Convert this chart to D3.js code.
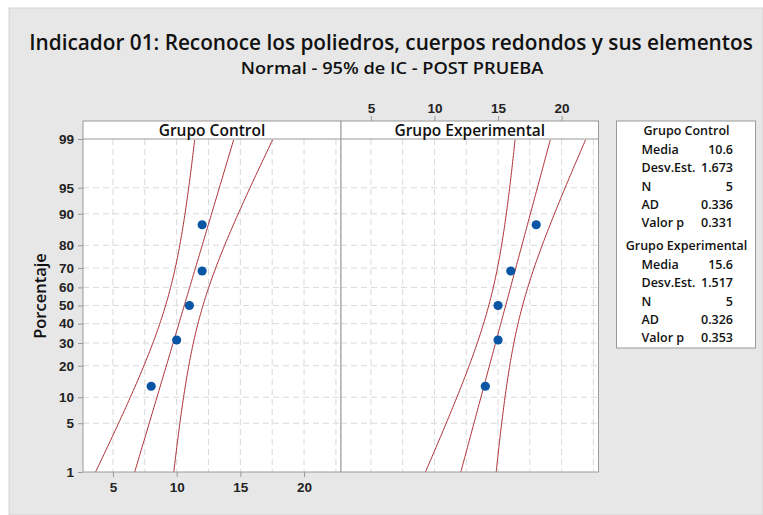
<!DOCTYPE html>
<html>
<head>
<meta charset="utf-8">
<script src="https://cdn.jsdelivr.net/npm/d3@7"></script>
<style>
  body { margin: 0; background: #fff; }
  svg { display: block; font-family: "Open Sans", "Noto Sans", sans-serif; }
  .grid line { stroke: #d9d9d9; stroke-dasharray: 6,4; }
</style>
</head>
<body>
<svg id="chart"></svg>
<script>
// datos
const groups = ["Grupo Control", "Grupo Experimental"];
const controlValues = [8, 10, 11, 12, 12];
const expValues = [14, 15, 15, 16, 18];
const pctTicks = [1, 5, 10, 20, 30, 40, 50, 60, 70, 80, 90, 95, 99];
const xTicks = [5, 10, 15, 20];
const gridX = [5, 7.5, 10, 12.5, 15, 17.5, 20, 22.5];
const statLabels = ["Media", "Desv.Est.", "N", "AD", "Valor p"];
const controlStats = ["10.6", "1.673", "5", "0.336", "0.331"];
const expStats = ["15.6", "1.517", "5", "0.326", "0.353"];

const width = 763, height = 515;

// inversa de la normal (Acklam)
function qnorm(p) {
  const a = [-39.69683028665376, 220.9460984245205, -275.9285104469687, 138.357751867269, -30.66479806614716, 2.506628277459239];
  const b = [-54.47609879822406, 161.5858368580409, -155.6989798598866, 66.80131188771972, -13.28068155288572];
  const c = [-0.007784894002430293, -0.3223964580411365, -2.400758277161838, -2.549732539343734, 4.374664141464968, 2.938163982698783];
  const d = [0.007784695709041462, 0.3224671290700398, 2.445134137142996, 3.754408661907416];
  const pl = 0.02425;
  let q, r;
  if (p < pl) {
    q = Math.sqrt(-2 * Math.log(p));
    return (((((c[0]*q+c[1])*q+c[2])*q+c[3])*q+c[4])*q+c[5]) / ((((d[0]*q+d[1])*q+d[2])*q+d[3])*q+1);
  } else if (p <= 1 - pl) {
    q = p - 0.5; r = q * q;
    return (((((a[0]*r+a[1])*r+a[2])*r+a[3])*r+a[4])*r+a[5])*q / (((((b[0]*r+b[1])*r+b[2])*r+b[3])*r+b[4])*r+1);
  }
  q = Math.sqrt(-2 * Math.log(1 - p));
  return -(((((c[0]*q+c[1])*q+c[2])*q+c[3])*q+c[4])*q+c[5]) / ((((d[0]*q+d[1])*q+d[2])*q+d[3])*q+1);
}

const svg = d3.select('#chart')
  .attr('width', width)
  .attr('height', height);

svg.append('rect')
  .attr('x', 9).attr('y', 8)
  .attr('width', width - 9).attr('height', height - 8)
  .attr('fill', '#e7e7e7')
  .attr('stroke', '#d4d4d4');

// titulos, ajustados al ancho de la fuente original
function fitText(txt, cx, cy, size, target) {
  const t = svg.append('text')
    .attr('text-anchor', 'middle')
    .attr('font-size', size).attr('font-weight', 600)
    .attr('fill', '#111')
    .text(txt);
  const w = t.node().getComputedTextLength();
  t.attr('transform', `translate(${cx},${cy}) scale(${target / w},1)`);
}
fitText("Indicador 01: Reconoce los poliedros, cuerpos redondos y sus elementos", 391, 50, 22, 724);
fitText("Normal - 95% de IC - POST PRUEBA", 392, 74, 16.5, 303);

const plotTop = 121, stripH = 18, plotBottom = 472;
const panels = [
  { name: groups[0], values: controlValues, x0: 83, x1: 341 },
  { name: groups[1], values: expValues, x0: 341, x1: 598.5 }
];

const y = d3.scaleLinear()
  .domain([qnorm(0.01), qnorm(0.99)])
  .range([plotBottom, plotTop + stripH]);

const line = d3.line().x(d => d[0]).y(d => d[1]);
const zs = d3.range(qnorm(0.01), qnorm(0.99) + 0.001, 0.02);

panels.forEach((p, i) => {
  const x = d3.scaleLinear().domain([2.65, 22.9]).range([p.x0, p.x1]);
  const g = svg.append('g');

  g.append('rect')
    .attr('x', p.x0).attr('y', plotTop)
    .attr('width', p.x1 - p.x0).attr('height', plotBottom - plotTop)
    .attr('fill', '#fff');

  const grid = g.append('g').attr('class', 'grid');
  grid.selectAll('.gx')
    .data(gridX)
    .enter()
    .append('line')
      .attr('x1', d => x(d)).attr('x2', d => x(d))
      .attr('y1', plotTop + stripH).attr('y2', plotBottom);
  grid.selectAll('.gy')
    .data(pctTicks.slice(1, -1))
    .enter()
    .append('line')
      .attr('x1', p.x0).attr('x2', p.x1)
      .attr('y1', d => y(qnorm(d / 100))).attr('y2', d => y(qnorm(d / 100)));

  // ajuste y bandas de confianza del 95%
  const n = p.values.length;
  const m = d3.mean(p.values), s = d3.deviation(p.values);
  const fit = zs.map(z => [x(m + s * z), y(z)]);
  const half = z => 1.96 * Math.sqrt(s * s / n + z * z * s * s / (2 * (n - 1)));
  const lo = zs.map(z => [x(m + s * z - half(z)), y(z)]);
  const hi = zs.map(z => [x(m + s * z + half(z)), y(z)]);

  g.append('clipPath').attr('id', 'clip' + i)
    .append('rect')
      .attr('x', p.x0).attr('y', plotTop + stripH)
      .attr('width', p.x1 - p.x0).attr('height', plotBottom - plotTop - stripH);

  g.selectAll('.fitline')
    .data([lo, fit, hi])
    .enter()
    .append('path')
      .attr('clip-path', 'url(#clip' + i + ')')
      .attr('d', line)
      .attr('fill', 'none')
      .attr('stroke', '#aa2a30')
      .attr('stroke-width', 1);

  const sorted = p.values.slice().sort(d3.ascending);
  g.selectAll('circle')
    .data(sorted)
    .enter()
    .append('circle')
      .attr('cx', d => x(d))
      .attr('cy', (d, k) => y(qnorm((k + 1 - 0.3) / (n + 0.4))))
      .attr('r', 4.6)
      .attr('fill', '#0b56a4');

  g.append('rect')
    .attr('x', p.x0).attr('y', plotTop)
    .attr('width', p.x1 - p.x0).attr('height', plotBottom - plotTop)
    .attr('fill', 'none').attr('stroke', '#9a9a9a');
  g.append('line')
    .attr('x1', p.x0).attr('x2', p.x1)
    .attr('y1', plotTop + stripH).attr('y2', plotTop + stripH)
    .attr('stroke', '#9a9a9a');
  g.append('text')
    .attr('x', (p.x0 + p.x1) / 2).attr('y', plotTop + 14.5)
    .attr('text-anchor', 'middle')
    .attr('font-size', 15.5).attr('font-weight', 600)
    .attr('fill', '#111')
    .text(p.name);

  if (i === 0) {
    svg.append('g')
      .attr('transform', `translate(0,${plotBottom})`)
      .call(d3.axisBottom(x).tickValues(xTicks).tickSize(5).tickSizeOuter(0))
      .call(a => a.select('.domain').remove())
      .call(a => a.selectAll('line').attr('stroke', '#9a9a9a'))
      .call(a => a.selectAll('text').attr('font-size', 13.5).attr('font-weight', 600)
        .attr('fill', '#222').attr('font-family', null).attr('dy', '0.9em'));
  } else {
    svg.append('g')
      .attr('transform', `translate(0,${plotTop})`)
      .call(d3.axisTop(x).tickValues(xTicks).tickSize(5).tickSizeOuter(0))
      .call(a => a.select('.domain').remove())
      .call(a => a.selectAll('line').attr('stroke', '#9a9a9a'))
      .call(a => a.selectAll('text').attr('font-size', 13.5).attr('font-weight', 600)
        .attr('fill', '#222').attr('font-family', null));
  }
});

// eje de porcentaje
const yAxis = svg.append('g')
  .attr('transform', 'translate(83,0)')
  .call(d3.axisLeft(y)
    .tickValues(pctTicks.map(d => qnorm(d / 100)))
    .tickFormat((d, k) => pctTicks[k])
    .tickSize(5).tickPadding(4).tickSizeOuter(0));
yAxis.select('.domain').remove();
yAxis.selectAll('line').attr('stroke', '#9a9a9a');
yAxis.selectAll('text').attr('font-size', 13.5).attr('font-weight', 600)
  .attr('fill', '#222').attr('font-family', null);

svg.append('text')
  .attr('transform', 'translate(46,296) rotate(-90)')
  .attr('text-anchor', 'middle')
  .attr('font-size', 16.5).attr('font-weight', 600)
  .attr('fill', '#111')
  .text('Porcentaje');

// leyenda
const legend = svg.append('g');
legend.append('rect')
  .attr('x', 616.5).attr('y', 121)
  .attr('width', 139).attr('height', 227)
  .attr('fill', '#fff').attr('stroke', '#9a9a9a');

[[groups[0], controlStats, 135], [groups[1], expStats, 250]].forEach(([name, stats, y0]) => {
  legend.append('text')
    .attr('x', 686.5).attr('y', y0)
    .attr('text-anchor', 'middle')
    .attr('font-size', 12.5).attr('font-weight', 600)
    .attr('fill', '#111')
    .text(name);
  statLabels.forEach((lab, k) => {
    legend.append('text')
      .attr('x', 641.5).attr('y', y0 + 19 + k * 18.3)
      .attr('font-size', 12.5).attr('font-weight', 600)
      .attr('fill', '#111')
      .text(lab);
    legend.append('text')
      .attr('x', 733).attr('y', y0 + 19 + k * 18.3)
      .attr('text-anchor', 'end')
      .attr('font-size', 12.5).attr('font-weight', 600)
      .attr('fill', '#111')
      .text(stats[k]);
  });
});
</script>
</body>
</html>
